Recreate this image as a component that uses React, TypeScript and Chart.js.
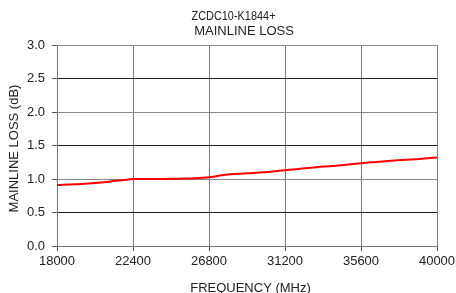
import React, { useEffect, useRef } from "react";
import { Chart, registerables } from "chart.js";

Chart.register(...registerables);

const titleLines = ["ZCDC10-K1844+", "MAINLINE LOSS"];
const xAxisTitle = "FREQUENCY (MHz)";
const yAxisTitle = "MAINLINE LOSS (dB)";

const frequencies = [
  18000, 19000, 20000, 21000, 22000, 22400, 23000, 24000, 25000, 26000, 26800,
  27500, 28000, 29000, 30000, 31200, 32000, 33000, 34000, 35000, 35600, 36000,
  37000, 38000, 39000, 40000,
];
const mainlineLoss = [
  0.91, 0.92, 0.935, 0.96, 0.99, 1.0, 1.0, 1.0, 1.005, 1.01, 1.025,
  1.055, 1.07, 1.085, 1.1, 1.13, 1.15, 1.175, 1.195, 1.22, 1.235, 1.245,
  1.265, 1.285, 1.3, 1.32,
];

const FONT = "'Liberation Sans', Arial, sans-serif";
const TEXT = "#222222";

const textPlugin = {
  id: "textPlugin",
  afterDraw(chart: any) {
    const ctx = chart.ctx;
    const a = chart.chartArea;
    const cx = (a.left + a.right) / 2;
    ctx.save();
    ctx.fillStyle = TEXT;
    ctx.font = `13px ${FONT}`;
    ctx.textAlign = "center";
    ctx.textBaseline = "middle";
    ctx.fillText(titleLines[0], cx - 13.5, a.top - 29, 84);
    ctx.fillText(titleLines[1], cx - 3, a.top - 14);
    ctx.fillText(xAxisTitle, cx + 3.5, a.bottom + 42);
    ctx.translate(14, (a.top + a.bottom) / 2 + 3);
    ctx.rotate(-Math.PI / 2);
    ctx.fillText(yAxisTitle, 0, 0);
    ctx.restore();
  },
};

export default function App() {
  const ref = useRef<HTMLCanvasElement | null>(null);
  useEffect(() => {
    if (!ref.current) return;
    const chart = new Chart(ref.current, {
      type: "line",
      data: {
        datasets: [
          {
            data: frequencies.map((f, i) => ({ x: f, y: mainlineLoss[i] })),
            borderColor: "#ff0000",
            borderWidth: 2,
            pointRadius: 0,
            tension: 0.4,
            fill: false,
          },
        ],
      },
      options: {
        animation: false,
        responsive: false,
        layout: { padding: { top: 45, right: 19, left: 0, bottom: 0 } },
        plugins: { legend: { display: false }, tooltip: { enabled: false }, title: { display: false } },
        scales: {
          x: {
            type: "linear",
            min: 18000,
            max: 40000,
            afterBuildTicks: (s: any) => {
              s.ticks = [18000, 22400, 26800, 31200, 35600, 40000].map((v) => ({ value: v }));
            },
            afterFit: (s: any) => {
              s.height = 47;
              s.paddingRight = 0;
            },
            ticks: {
              color: TEXT,
              font: { family: FONT, size: 13 },
              padding: 3,
              maxRotation: 0,
              autoSkip: false,
              callback: (v: any) => String(v),
            },
            grid: { color: "#7a7a7a", lineWidth: 1, tickLength: 5, tickColor: "#555" },
            border: { color: "#777", width: 1 },
          },
          y: {
            min: 0,
            max: 3,
            afterFit: (s: any) => {
              s.width = 57;
            },
            ticks: {
              stepSize: 0.5,
              color: TEXT,
              font: { family: FONT, size: 13 },
              padding: 7,
              callback: (v: any) => Number(v).toFixed(1),
            },
            grid: {
              color: (c: any) => (c.index % 2 === 0 ? "#8a8a8a" : "#1e1e1e"),
              lineWidth: 1,
              tickLength: 5,
              tickColor: "#555",
            },
            border: { color: "#777", width: 1 },
          },
        },
      },
      plugins: [textPlugin],
    } as any);
    return () => chart.destroy();
  }, []);
  return (
    <div style={{ position: "fixed", left: 0, top: 0, width: 456, height: 293, background: "#fff" }}>
      <canvas ref={ref} width={456} height={293} style={{ display: "block" }} />
    </div>
  );
}
